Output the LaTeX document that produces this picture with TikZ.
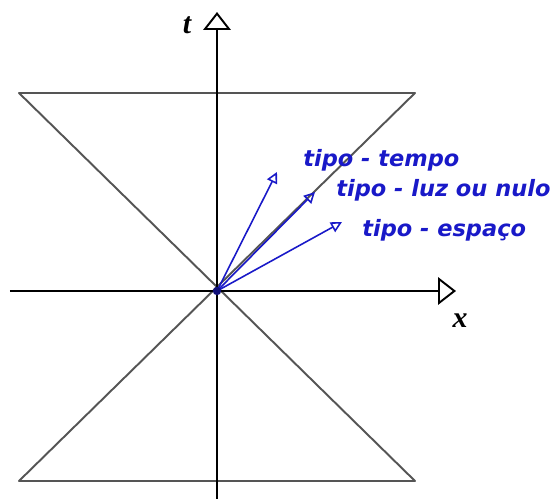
\documentclass[tikz,border=0pt]{standalone}
\usepackage{fontspec}
\setmainfont{Liberation Serif}
\newfontfamily\labelfont{DejaVu Sans}
\usetikzlibrary{arrows.meta}
\definecolor{vecblue}{RGB}{25,25,200}
\definecolor{conegray}{RGB}{85,85,85}
\begin{document}
\begin{tikzpicture}[x=0.02cm, y=0.02cm, line join=round,
	axis/.style={line width=1.2pt, -{Triangle[open, length=0.36cm, width=0.55cm, line width=1.1pt]}},
	cone/.style={conegray, line width=1.1pt},
	vec/.style={vecblue, line width=0.9pt, -{Triangle[open, length=0.22cm, width=0.22cm, line width=0.9pt]}},
	tipo/.style={vecblue, anchor=west, inner sep=0pt, font=\labelfont\bfseries\itshape\fontsize{12.8}{14}\selectfont}]
	\useasboundingbox (-217,-208) rectangle (335,291);
	% PONTOS
	\coordinate (O) at (0,0);
	\coordinate (XL) at (-207,0); \coordinate (XR) at (239,0);
	\coordinate (TB) at (0,-208); \coordinate (TT) at (0,279);
	\coordinate (UL) at (-198,198); \coordinate (UR) at (198,198);
	\coordinate (DL) at (-198,-190); \coordinate (DR) at (198,-190);
	\coordinate (Vt) at (60,119); \coordinate (Vl) at (98,99); \coordinate (Ve) at (125,69);
	
	% CONE DE LUZ
	\draw[cone] (UL)--(UR)--(DL)--(DR)--(UL)--cycle;
	
	% EIXOS
	\draw[axis] (XL)--(XR);
	\draw[axis] (TB)--(TT);
	\node[font=\bfseries\itshape\fontsize{17}{20}\selectfont] (t) at (-30,266) {t};
	\node[font=\bfseries\itshape\fontsize{17}{20}\selectfont] (x) at (243,-30) {x};
	
	% VETORES
	\foreach \v in {Vt, Vl, Ve} {
		\draw[vec] (O)--(\v);
	}
	\fill[vecblue!60!black] (O) circle (2.4pt);
	\node[tipo] (tempo) at (86,131) {tipo - tempo};
	\node[tipo] (luz) at (119,101) {tipo - luz ou nulo};
	\node[tipo] (espaco) at (145,61) {tipo - espaço};
\end{tikzpicture}
\end{document}
